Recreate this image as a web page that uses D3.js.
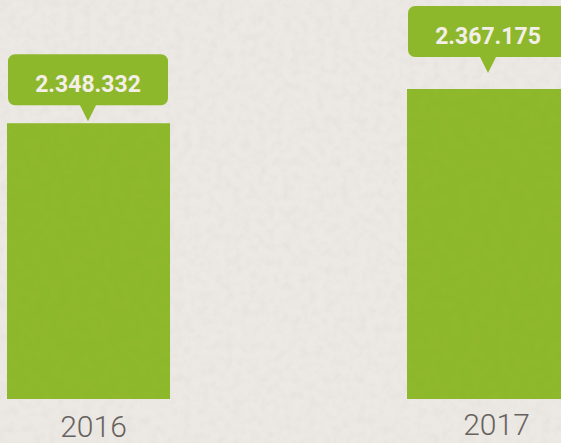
<!DOCTYPE html>
<html>
<head>
<meta charset="utf-8">
<script src="https://cdn.jsdelivr.net/npm/d3@7"></script>
<style>
  html, body { margin: 0; padding: 0; background: #ece8e3; overflow: hidden; }
</style>
</head>
<body>
<div id="chart"></div>
<script>
// data
var years = ["2016", "2017"];
var visitors = [2348332, 2367175];
var valueLabels = ["2.348.332", "2.367.175"];

var width = 561, height = 443;
var green = "#8eb82b";
var textGrey = "#656260";

var svg = d3.select("#chart").append("svg")
  .attr("width", width)
  .attr("height", height);

// paper texture
var defs = svg.append("defs");
var paper = defs.append("filter").attr("id", "paper")
  .attr("x", 0).attr("y", 0).attr("width", "100%").attr("height", "100%");
paper.append("feTurbulence").attr("type", "fractalNoise")
  .attr("baseFrequency", 0.12).attr("numOctaves", 3).attr("seed", 4);
paper.append("feColorMatrix").attr("type", "matrix")
  .attr("values", "0 0 0 0 0.6  0 0 0 0 0.57  0 0 0 0 0.53  0 0 0 -1.6 0.95");
var grain = defs.append("filter").attr("id", "grain")
  .attr("x", 0).attr("y", 0).attr("width", "100%").attr("height", "100%");
grain.append("feTurbulence").attr("type", "fractalNoise")
  .attr("baseFrequency", 0.1).attr("numOctaves", 2).attr("seed", 9);
grain.append("feColorMatrix").attr("type", "matrix")
  .attr("values", "0 0 0 0 0.35  0 0 0 0 0.5  0 0 0 0 0.05  0 0 0 -1.4 0.85");

svg.append("rect").attr("width", width).attr("height", height).attr("fill", "#ece8e3");
svg.append("rect").attr("width", width).attr("height", height)
  .attr("filter", "url(#paper)").attr("opacity", 0.22);

// scales (value axis does not start at zero)
var barW = 163, step = 400;
var x = d3.scaleBand()
  .domain(years)
  .range([7, 7 + step + barW])
  .paddingInner(1 - barW / step)
  .paddingOuter(0);
var y = d3.scaleLinear()
  .domain([2196500, 2367175])
  .range([399, 89]);

// bars
var bars = svg.append("g");
bars.selectAll("rect.bar").data(years)
  .enter().append("rect")
  .attr("class", "bar")
  .attr("x", function (d) { return x(d); })
  .attr("y", function (d, i) { return y(visitors[i]); })
  .attr("width", x.bandwidth())
  .attr("height", function (d, i) { return y.range()[0] - y(visitors[i]); })
  .attr("fill", green);

// callouts
var gaps = [18, 32];
var boxW = 160, boxH = 51, tipH = 16, tipW = 8, r = 7;
var callouts = svg.append("g").selectAll("g").data(years)
  .enter().append("g")
  .attr("transform", function (d, i) {
    var cx = x(d) + 1;
    var bottom = y(visitors[i]) - gaps[i];
    return "translate(" + cx + "," + (bottom - boxH) + ")";
  });

callouts.append("path")
  .attr("fill", green)
  .attr("d", function () {
    var p = d3.path();
    p.moveTo(r, 0);
    p.lineTo(boxW - r, 0);
    p.arcTo(boxW, 0, boxW, r, r);
    p.lineTo(boxW, boxH - r);
    p.arcTo(boxW, boxH, boxW - r, boxH, r);
    p.lineTo(boxW / 2 + tipW, boxH);
    p.lineTo(boxW / 2, boxH + tipH);
    p.lineTo(boxW / 2 - tipW, boxH);
    p.lineTo(r, boxH);
    p.arcTo(0, boxH, 0, boxH - r, r);
    p.lineTo(0, r);
    p.arcTo(0, 0, r, 0, r);
    p.closePath();
    return p.toString();
  });

callouts.append("text")
  .attr("x", boxW / 2)
  .attr("y", 38)
  .attr("text-anchor", "middle")
  .attr("fill", "#f3efe8")
  .attr("font-family", "Roboto, 'Open Sans', sans-serif")
  .attr("font-weight", 700)
  .attr("font-size", 23)
  .text(function (d, i) { return valueLabels[i]; });

// texture on green shapes
svg.append("g").selectAll("rect").data(years)
  .enter().append("rect")
  .attr("x", function (d) { return x(d); })
  .attr("y", function (d, i) { return y(visitors[i]); })
  .attr("width", x.bandwidth())
  .attr("height", function (d, i) { return y.range()[0] - y(visitors[i]); })
  .attr("filter", "url(#grain)")
  .attr("opacity", 0.2);

// year labels
var yearOffset = [5, 8];
svg.append("g").selectAll("text").data(years)
  .enter().append("text")
  .attr("x", function (d, i) { return x(d) + x.bandwidth() / 2 + yearOffset[i]; })
  .attr("y", function (d, i) { return i === 0 ? 437 : 435; })
  .attr("text-anchor", "middle")
  .attr("fill", textGrey)
  .attr("font-family", "Roboto, 'Open Sans', sans-serif")
  .attr("font-weight", 300)
  .attr("font-size", 30)
  .text(function (d) { return d; });
</script>
</body>
</html>
